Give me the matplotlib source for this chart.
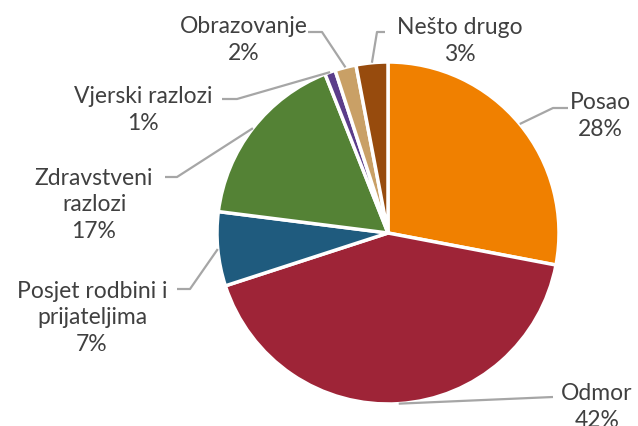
import matplotlib
matplotlib.use("Agg")
import matplotlib.pyplot as plt
import numpy as np

categories = ["Posao", "Odmor", "Posjet rodbini i\nprijateljima", "Zdravstveni\nrazlozi",
              "Vjerski razlozi", "Obrazovanje", "Nešto drugo"]
values = [28, 42, 7, 17, 1, 2, 3]
colors = ["#F08000", "#9E2437", "#1F5B7E", "#548235", "#5B3D8A", "#C9A066", "#974B0D"]

W, H = 638, 427
fig = plt.figure(figsize=(W / 100, H / 100), dpi=100)
ax = fig.add_axes([0, 0, 1, 1])

cx, cy, R = 388, H - 234, 171
wedges, _ = ax.pie(values, colors=colors, startangle=90, counterclock=False,
                   center=(cx, cy), radius=R, frame=True,
                   wedgeprops=dict(edgecolor="white", linewidth=2.5))
ax.set_xlim(0, W)
ax.set_ylim(0, H)
ax.set_aspect("equal")
ax.axis("off")

# label placement (pixel coords, y from top) and leader elbow points
label_pos = [(600, 116), (597, 407), (92, 318), (94, 205), (143, 110), (244, 40), (460, 41)]
elbows = [
    [(568, 109), (553, 109)],
    [(553, 398)],
    [(177, 290), (190, 290)],
    [(165, 178), (177, 178)],
    [(222, 100), (237, 100)],
    [(308, 33), (322, 33)],
    [(385, 33), (377, 33)],
]

for w, cat, v, (lx, ly), elb in zip(wedges, categories, values, label_pos, elbows):
    ang = np.deg2rad((w.theta1 + w.theta2) / 2)
    ex, ey = cx + R * np.cos(ang), cy + R * np.sin(ang)
    xs = [p[0] for p in elb] + [ex]
    ys = [H - p[1] for p in elb] + [ey]
    ax.plot(xs, ys, color="#A6A6A6", lw=1.6, solid_capstyle="butt")
    ax.text(lx, H - ly, f"{cat}\n{v}%", ha="center", va="center", multialignment="center",
            fontsize=16.5, family="Lato", color="#404040", linespacing=1.35)

fig.savefig("out.png", dpi=100)
